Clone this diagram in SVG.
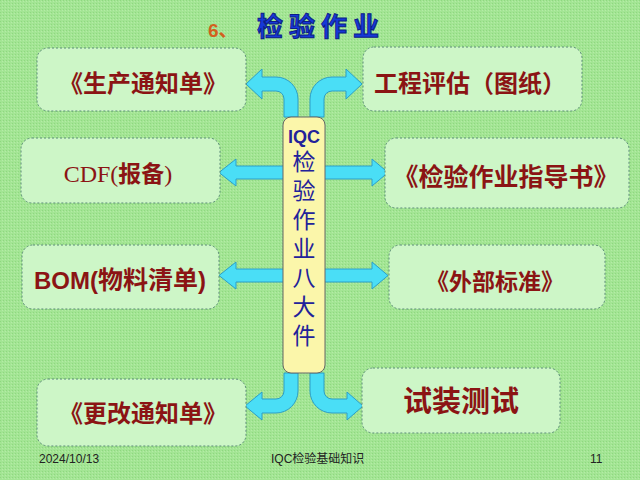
<svg xmlns="http://www.w3.org/2000/svg" width="640" height="480" viewBox="0 0 640 480">
<defs>
<pattern id="tex" width="3" height="3" patternUnits="userSpaceOnUse">
<rect width="3" height="3" fill="#a3e594"/>
<rect x="0" y="0" width="1" height="1" fill="#8fd880"/>
<rect x="2" y="1" width="1" height="1" fill="#b4eca6"/>
</pattern>
<style>
.box{fill:#cdf6c7;stroke:#5a8a78;stroke-width:1;stroke-dasharray:2 2}
.lbl{font-family:"Noto Sans CJK SC","Liberation Sans",sans-serif;font-weight:bold;fill:#8b1414;text-anchor:middle}
.arr{fill:#4adef6;stroke:#2c9ec8;stroke-width:1}
.foot{font-family:"Liberation Sans","Noto Sans CJK SC",sans-serif;font-size:12px;fill:#222}
</style>
</defs>
<rect width="640" height="480" fill="url(#tex)"/>

<g id="title">
<text x="208" y="37" font-family="Liberation Sans,Noto Sans CJK SC,sans-serif" font-weight="bold" font-size="19" fill="#d2601e">6、</text>
<text x="257" y="36" font-family="Noto Sans CJK SC,sans-serif" font-weight="bold" font-size="26" letter-spacing="6" fill="#1638d8" stroke="#0c1c88" stroke-width="1">检验作业</text>
</g>

<g id="connectors">
<path class="arr" d="M298 117 L298 99 A22 22 0 0 0 276 77 L262 77 L262 69 L246 84 L262 99 L262 91 L276 91 A8 8 0 0 1 284 99 L284 117 Z"/>
<path class="arr" d="M310 117 L310 99 A22 22 0 0 1 332 77 L346 77 L346 69 L362 84 L346 99 L346 91 L332 91 A8 8 0 0 0 324 99 L324 117 Z"/>
<path class="arr" d="M284 373 L284 391 A8 8 0 0 1 276 399 L262 399 L262 392 L245 406 L262 420 L262 413 L276 413 A22 22 0 0 0 298 391 L298 373 Z"/>
<path class="arr" d="M310 373 L310 391 A22 22 0 0 0 332 413 L347 413 L347 420 L363 406 L347 392 L347 399 L332 399 A8 8 0 0 1 324 391 L324 373 Z"/>
<path class="arr" d="M284 166 L236 166 L236 159 L219 172.5 L236 186 L236 179 L284 179 Z"/>
<path class="arr" d="M284 269 L236 269 L236 262 L219 275.5 L236 289 L236 282 L284 282 Z"/>
<path class="arr" d="M324 166 L372 166 L372 159 L388 172.5 L372 186 L372 179 L324 179 Z"/>
<path class="arr" d="M324 269 L372 269 L372 262 L388 275.5 L372 289 L372 282 L324 282 Z"/>
</g>

<g id="center">
<rect x="283" y="117" width="42" height="256" rx="8" fill="#fbf6aa" stroke="#666" stroke-width="1"/>
<text x="304" y="143" font-family="Liberation Sans,sans-serif" font-weight="bold" font-size="18" fill="#22229a" text-anchor="middle">IQC</text>
<text x="304" y="150" writing-mode="vertical-rl" letter-spacing="6" font-family="Noto Sans CJK SC,sans-serif" font-size="23" fill="#22229a">检验作业八大件</text>
</g>

<g id="n1">
<rect class="box" x="37" y="48" width="209" height="63" rx="11"/>
<text class="lbl" x="143" y="92" font-size="24">《生产通知单》</text>
</g>
<g id="n2">
<rect class="box" x="363" y="47" width="219" height="64" rx="11"/>
<text class="lbl" x="470" y="92" font-size="24">工程评估（图纸）</text>
</g>
<g id="n3">
<rect class="box" x="21" y="138" width="199" height="65" rx="11"/>
<text class="lbl" x="118" y="182" font-size="24"><tspan font-family="Liberation Serif,serif" font-weight="normal">CDF(</tspan><tspan font-size="23">报备</tspan><tspan font-family="Liberation Serif,serif" font-weight="normal">)</tspan></text>
</g>
<g id="n4">
<rect class="box" x="385" y="138" width="244" height="70" rx="11"/>
<text class="lbl" x="506" y="186" font-size="25">《检验作业指导书》</text>
</g>
<g id="n5">
<rect class="box" x="22" y="245" width="197" height="64" rx="11"/>
<text class="lbl" x="120" y="289" font-size="25"><tspan font-family="Liberation Sans,sans-serif" font-size="24">BOM(</tspan>物料清单<tspan font-family="Liberation Sans,sans-serif" font-size="24">)</tspan></text>
</g>
<g id="n6">
<rect class="box" x="389" y="245" width="216" height="64" rx="11"/>
<text class="lbl" x="495" y="290" font-size="23">《外部标准》</text>
</g>
<g id="n7">
<rect class="box" x="37" y="379" width="209" height="67" rx="11"/>
<text class="lbl" x="143" y="422" font-size="24">《更改通知单》</text>
</g>
<g id="n8">
<rect class="box" x="362" y="368" width="198" height="65" rx="11"/>
<text class="lbl" x="461" y="412" font-size="29">试装测试</text>
</g>

<g id="footer">
<text class="foot" x="39" y="463">2024/10/13</text>
<text class="foot" x="271" y="463">IQC检验基础知识</text>
<text class="foot" x="590" y="463">11</text>
</g>
</svg>
